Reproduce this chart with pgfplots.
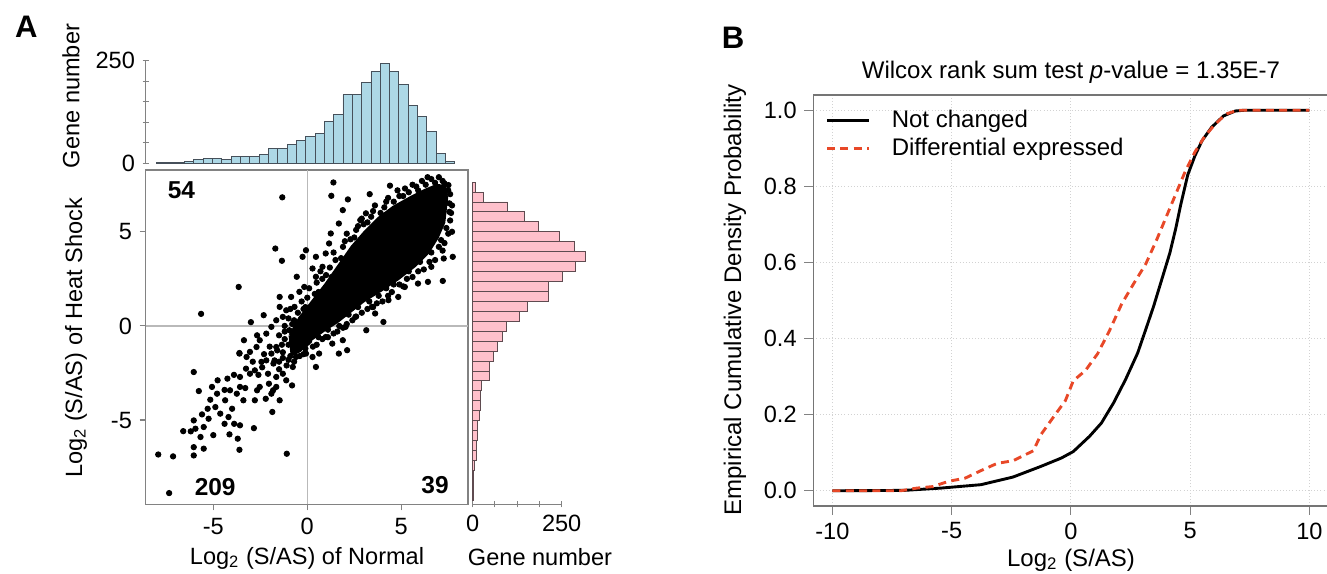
\documentclass[border=0pt]{standalone}
\usepackage{fontspec}
\setmainfont{Liberation Sans}
\usepackage{pgfplots}
\pgfplotsset{compat=1.18}
\definecolor{histblue}{RGB}{173,216,230}
\definecolor{bluedge}{RGB}{70,80,90}
\definecolor{histpink}{RGB}{255,192,203}
\definecolor{pinkedge}{RGB}{95,75,80}
\definecolor{boxgray}{RGB}{130,130,130}
\definecolor{zerogray}{RGB}{185,185,185}
\definecolor{dered}{RGB}{232,72,40}
\newcommand{\tfont}{\fontsize{10.6}{12}\selectfont}
\begin{document}
\begin{tikzpicture}
\useasboundingbox (0,0) rectangle (597.15pt,258.3pt);
\pgfplotsset{
  common/.style={scale only axis, anchor=south west,
    tick label style={font=\tfont, text=black},
    tick align=outside, major tick length=2.7pt,
    tick style={boxgray, line width=0.5pt},
    axis line style={boxgray, line width=0.6pt}}
}
% ---------------- top histogram
\begin{axis}[common,
  at={(65.57pt,184.7pt)}, width=145pt, height=46.35pt,
  xmin=-8.596, xmax=8.548, ymin=0, ymax=250,
  axis x line=none, axis y line=left, axis line style={-},
  ytick={0,50,100,150,200,250}, yticklabels={0,,,,,250},
  clip=false]
\addplot[ybar interval, fill=histblue, draw=bluedge, line width=0.4pt] coordinates {
(-8.020,2) (-7.524,2) (-7.028,2) (-6.532,4) (-6.036,10) (-5.540,12) (-5.044,12) (-4.548,10)
(-4.052,17) (-3.556,18) (-3.060,17) (-2.564,21) (-2.068,37) (-1.572,37) (-1.076,46) (-0.580,55)
(-0.084,66) (0.412,74) (0.908,103) (1.404,118) (1.900,167) (2.396,167) (2.892,196) (3.388,223)
(3.884,244) (4.380,223) (4.876,191) (5.372,142) (5.868,114) (6.364,78) (6.860,24) (7.356,6) (7.852,0)};
\end{axis}
% ---------------- right histogram
\begin{axis}[common,
  at={(212.7pt,31.37pt)}, width=40.05pt, height=150.4pt,
  xmin=0, xmax=250, ymin=-9.474, ymax=8.279,
  axis y line=none, axis x line=bottom, axis line style={-},
  xtick={0,62.5,125,187.5,250}, xticklabels={0,,,,250},
  clip=false]
\addplot[xbar interval, fill=histpink, draw=pinkedge, line width=0.4pt] coordinates {
(1,-9.256) (1,-8.728) (2,-8.200) (4,-7.672) (12,-7.144) (12,-6.616) (14,-6.088) (14,-5.560)
(19,-5.032) (21,-4.504) (21,-3.976) (25,-3.448) (47,-2.920) (47,-2.392) (57,-1.864) (70,-1.336)
(83,-0.808) (96,-0.280) (132,0.248) (153,0.776) (214,1.304) (214,1.832) (251,2.360) (289,2.888)
(316,3.416) (287,3.944) (245,4.472) (184,5.000) (145,5.528) (99,6.056) (29,6.584) (8,7.112) (0,7.640)};
\end{axis}
% ---------------- scatter
\begin{axis}[common,
  at={(65.57pt,31.37pt)}, width=145pt, height=150.4pt,
  xmin=-8.596, xmax=8.548, ymin=-9.474, ymax=8.279,
  xtick={-5,0,5}, xticklabels={-5,0,5},
  ytick={-5,0,5}, yticklabels={-5,0,5},
  xtick pos=bottom, ytick pos=left]
\addplot[zerogray, line width=0.6pt] coordinates {(0,-9.474) (0,8.279)};
\addplot[zerogray, line width=0.6pt] coordinates {(-8.596,0) (8.548,0)};
\addplot[fill=black, draw=black, line width=1.6pt, line join=round] coordinates {
(-0.9,-0.5) (-0.4,0.4) (0.3,1.3) (1.0,2.2) (1.7,3.2) (2.4,4.2) (3.1,5.0) (3.8,5.7) (4.6,6.3)
(5.5,6.8) (6.3,7.2) (6.9,7.45) (7.3,7.4) (7.4,6.8) (7.25,5.5) (6.9,4.7) (6.4,3.9) (5.7,3.2)
(4.8,2.5) (3.9,1.9) (3.0,1.35) (2.3,0.8) (1.6,0.25) (0.9,-0.2) (0.2,-0.7) (-0.4,-1.3) (-0.8,-1.5) (-0.9,-0.5)};
\addplot[only marks, mark=*, mark size=1.2pt, black] coordinates {
(-1.33,6.83) (1.39,7.62) (1.28,6.91) (2.16,6.72) (4.40,7.45) (-1.70,4.11) (-1.35,3.46) (-3.65,2.07)
(-5.65,0.64) (-0.07,4.02) (-0.25,3.67) (1.25,4.91) (1.16,4.38) (1.68,5.44) (1.89,6.15) (2.82,5.62)
(3.32,7.00) (3.12,5.98) (-0.56,2.61) (0.28,3.05) (-1.47,1.54) (-2.32,0.57) (-3.00,0.20) (-2.67,-0.50)
(-3.37,-0.76) (-3.61,-1.44) (-3.23,-1.65) (-6.04,-2.45) (-5.77,-3.46) (-5.07,-3.24) (-4.77,-2.89)
(-4.25,-2.80) (-3.75,-3.60) (-4.37,-3.95) (-5.16,-3.92) (-4.89,-4.31) (-4.63,-4.66) (-5.25,-4.93)
(-6.04,-5.02) (-6.60,-5.59) (-5.95,-5.46) (-5.51,-5.37) (-5.68,-5.90) (-6.04,-6.44) (-6.04,-6.88)
(-5.51,-6.52) (-7.93,-6.83) (-7.14,-6.93) (-7.35,-8.88) (-1.09,-6.79) (-3.61,-6.58) (-4.14,-5.76)
(-3.70,-5.99) (-3.58,-5.28) (-3.89,-5.20) (-2.84,-5.43) (-4.19,-4.84) (-4.00,-4.40) (-3.40,-3.95)
(-2.79,-3.95) (-2.21,-3.87) (-1.86,-4.57) (-1.47,-3.95) (-1.82,-3.42) (-0.81,-3.16) (-2.04,-3.07)
(-2.53,-3.24) (-2.67,-3.42) (-3.58,-3.24) (-4.11,-3.42) (-3.58,-2.71) (-3.05,-2.54) (-3.26,-2.27)
(-2.79,-2.36) (-2.44,-1.91) (-2.18,-1.83) (-1.91,-1.47) (-1.65,-1.12) (-1.74,-1.83) (-2.09,-2.54)
(-3.05,-1.38) (-2.70,-1.12) (-3.61,-1.47) (-2.53,-0.76) (-2.18,-0.41) (-1.91,-0.05) (-1.65,0.30)
(-1.30,0.48) (-1.12,0.83) (-0.68,1.01) (-1.47,1.01) (-0.86,1.54) (-0.42,1.81) (-0.16,2.07) (0.46,2.61)
(0.81,3.14) (0.46,3.67) (0.98,3.85) (-0.95,-0.23) (-0.25,-0.94) (-0.07,-1.47) (0.46,-2.18) (0.28,-1.65)
(0.63,-1.47) (1.68,-1.47) (2.12,-1.29) (1.33,-0.94) (1.89,-0.76) (3.14,-0.23) (4.05,0.21) (3.61,0.66)
(4.32,1.37) (4.84,1.54) (5.19,2.07) (5.89,2.25) (6.42,2.34) (7.21,2.39) (6.60,3.14) (7.74,3.67)
(7.26,3.58) (7.12,4.56) (7.56,6.06) (7.56,6.51) (7.30,7.57) (7.51,7.48) (2.74,1.72) (3.44,1.01)
(2.56,0.48) (2.04,-0.05) (0.98,-0.59) (-1.30,-2.54) (-0.77,-2.18) (-0.60,-1.65) (-1.12,-2.89)
(-1.65,-2.71) (-1.91,-3.60) (-1.65,-3.24)
(-0.9,0.9) (-0.3,1.3) (0.1,2.0) (0.5,2.3) (0.7,2.9) (1.2,3.1) (1.4,3.9) (1.9,4.2) (2.1,4.9) (2.6,5.1)
(2.9,5.7) (3.4,5.8) (3.6,6.4) (4.1,6.3) (4.3,6.8) (4.9,6.9) (5.2,7.3) (5.8,7.4) (6.1,7.7) (6.6,7.8) (7.0,7.9)
(7.7,6.4) (7.6,5.6) (7.5,4.9) (7.2,4.0) (6.8,3.5) (6.2,3.0) (5.6,2.6) (5.1,2.1) (4.5,1.8) (4.0,1.3)
(3.5,1.0) (2.9,0.7) (2.4,0.3) (1.9,-0.1) (1.4,-0.4) (0.8,-0.7) (0.3,-1.1) (-0.2,-1.5) (-0.7,-1.9)
(-1.1,-2.1) (-1.5,-1.9) (-1.6,-1.3) (-1.5,-0.5) (-1.2,0.0)
(-2.4,-2.2) (-2.0,-1.1) (-1.8,-2.0) (-1.3,-1.4) (-1.0,-1.0) (-0.6,-0.6) (-1.2,-0.3) (-0.8,0.1)
(-2.9,-1.9) (-2.6,-2.6) (-3.3,-3.3) (-3.9,-2.6) (-4.4,-3.4) (-4.8,-3.6) (-5.3,-4.4) (-5.6,-4.7)
(-6.2,-5.6) (-5.0,-5.8) (-4.4,-5.2) (-2.3,-1.5) (-1.5,-2.3) (-1.0,-1.8) (-0.5,-1.2) (-0.2,-0.3)
(0.1,0.5) (0.5,0.9) (0.0,-0.9) (0.6,-0.3) (1.2,0.6) (1.0,1.4) (0.6,1.8) (-0.1,1.0) (-0.5,0.7)
(-0.7,0.3) (-0.2,0.9) (0.0,1.5) (0.4,1.7) (0.8,2.5) (1.0,2.7) (1.3,2.6) (1.5,3.5) (1.8,3.6) (2.0,4.5)
(2.3,4.6) (2.5,4.7) (2.7,5.3) (3.0,5.4) (3.2,5.5) (3.5,6.1) (3.9,6.0) (4.2,6.6) (4.6,6.6) (4.8,7.2)
(5.1,6.9) (5.4,7.1) (5.6,7.5) (5.9,7.2) (6.3,7.5) (6.4,7.9) (6.8,7.6) (7.2,7.7) (7.5,7.2) (7.6,7.0)
(7.65,6.0) (7.4,5.2) (7.7,5.0) (7.3,4.4) (7.0,4.2) (6.6,3.9) (6.5,3.4) (6.0,3.4) (5.9,2.9) (5.4,2.9)
(5.3,2.5) (4.9,2.2) (4.6,2.2) (4.3,1.6) (4.2,2.0) (3.8,1.6) (3.7,1.2) (3.3,1.3) (3.2,0.9) (2.7,1.0)
(2.6,0.5) (2.2,0.6) (2.1,0.1) (1.7,0.0) (1.6,-0.3) (1.1,-0.2) (1.1,-0.6) (0.6,-0.6) (0.5,-1.0)
(0.1,-0.8) (-0.1,-1.2) (-0.4,-1.6) (-0.9,-1.6) (-1.3,-1.7) (-1.35,-1.0) (-1.2,-0.7) (-1.0,0.4) (-0.6,0.2)};
\node[font=\fontsize{11}{13}\bfseries\selectfont] at (axis cs:-6.7,7.2) {54};
\node[font=\fontsize{11}{13}\bfseries\selectfont] at (axis cs:-4.9,-8.55) {209};
\node[font=\fontsize{11}{13}\bfseries\selectfont] at (axis cs:6.8,-8.45) {39};
\end{axis}
% ---------------- panel B
\begin{axis}[common,
  at={(366.0pt,30.6pt)}, width=231.8pt, height=184.95pt,
  xmin=-10.8, xmax=10.8, ymin=-0.04, ymax=1.04,
  xtick={-10,-5,0,5,10}, xticklabels={-10,-5,0,5,10},
  ytick={0,0.2,0.4,0.6,0.8,1}, yticklabels={0.0,0.2,0.4,0.6,0.8,1.0},
  xtick pos=bottom, ytick pos=left, major tick length=4pt,
  axis line style={boxgray!90!black, line width=0.7pt},
  grid=major, grid style={densely dotted, gray!35, line width=0.5pt},
  legend cell align=left,
  legend style={draw=none, fill=none, at={(0.01,0.985)}, anchor=north west,
    font=\fontsize{10.8}{13}\selectfont, row sep=-1pt},
  legend image code/.code={\draw[#1] (0pt,0pt) -- (18.9pt,0pt); \path (26.5pt,0pt);}]
\addplot[black, line width=1.3pt] coordinates {
(-10,0) (-7,0.001) (-5.45,0.007) (-3.77,0.016) (-2.43,0.036) (-1.26,0.064) (-0.4,0.086) (0.1,0.103)
(0.78,0.143) (1.28,0.178) (1.79,0.231) (2.29,0.292) (2.8,0.362) (3.14,0.424) (3.47,0.485) (3.81,0.555)
(4.15,0.625) (4.4,0.69) (4.6,0.75) (4.9,0.83) (5.2,0.88) (5.5,0.92) (5.9,0.955) (6.4,0.985) (6.9,0.998)
(7.3,1.0) (10,1.0)};
\addlegendentry{Not changed}
\addplot[dered, line width=1.3pt, dash pattern=on 3.6pt off 2.4pt] coordinates {
(-10,0) (-7.14,0) (-6.46,0.007) (-5.79,0.011) (-5.12,0.025) (-4.44,0.033) (-3.77,0.053) (-3.09,0.072)
(-2.42,0.079) (-1.58,0.105) (-1.24,0.149) (-0.74,0.193) (-0.23,0.237) (0.1,0.289) (0.61,0.316)
(1.12,0.36) (1.62,0.421) (2.13,0.491) (2.63,0.544) (3.14,0.596) (3.6,0.66) (4.0,0.72) (4.4,0.78)
(4.8,0.84) (5.2,0.89) (5.6,0.93) (6.0,0.96) (6.5,0.99) (7.0,1.0) (10,1.0)};
\addlegendentry{Differential expressed}
\end{axis}
% ---------------- labels
\node[font=\fontsize{14}{16}\bfseries\selectfont] at (11.9pt,246.15pt) {A};
\node[font=\fontsize{14}{16}\bfseries\selectfont] at (329.85pt,241.2pt) {B};
\node[font=\fontsize{10.6}{12}\selectfont, rotate=90] at (31.95pt,215.1pt) {Gene number};
\node[font=\fontsize{10.6}{12}\selectfont, rotate=90] at (34.2pt,106.2pt) {Log\textsubscript{2} (S/AS) of Heat Shock};
\node[font=\fontsize{10.6}{12}\selectfont] at (138.15pt,7.2pt) {Log\textsubscript{2} (S/AS) of Normal};
\node[font=\fontsize{10.6}{12}\selectfont] at (243pt,7.65pt) {Gene number};
\node[font=\fontsize{10.8}{13}\selectfont] at (481.95pt,225.9pt) {Wilcox rank sum test \textit{p}-value = 1.35E-7};
\node[font=\fontsize{10.8}{13}\selectfont, rotate=90] at (330.75pt,123.3pt) {Empirical Cumulative Density Probability};
\node[font=\fontsize{10.8}{13}\selectfont] at (481.95pt,6.3pt) {Log\textsubscript{2} (S/AS)};
\end{tikzpicture}
\end{document}
